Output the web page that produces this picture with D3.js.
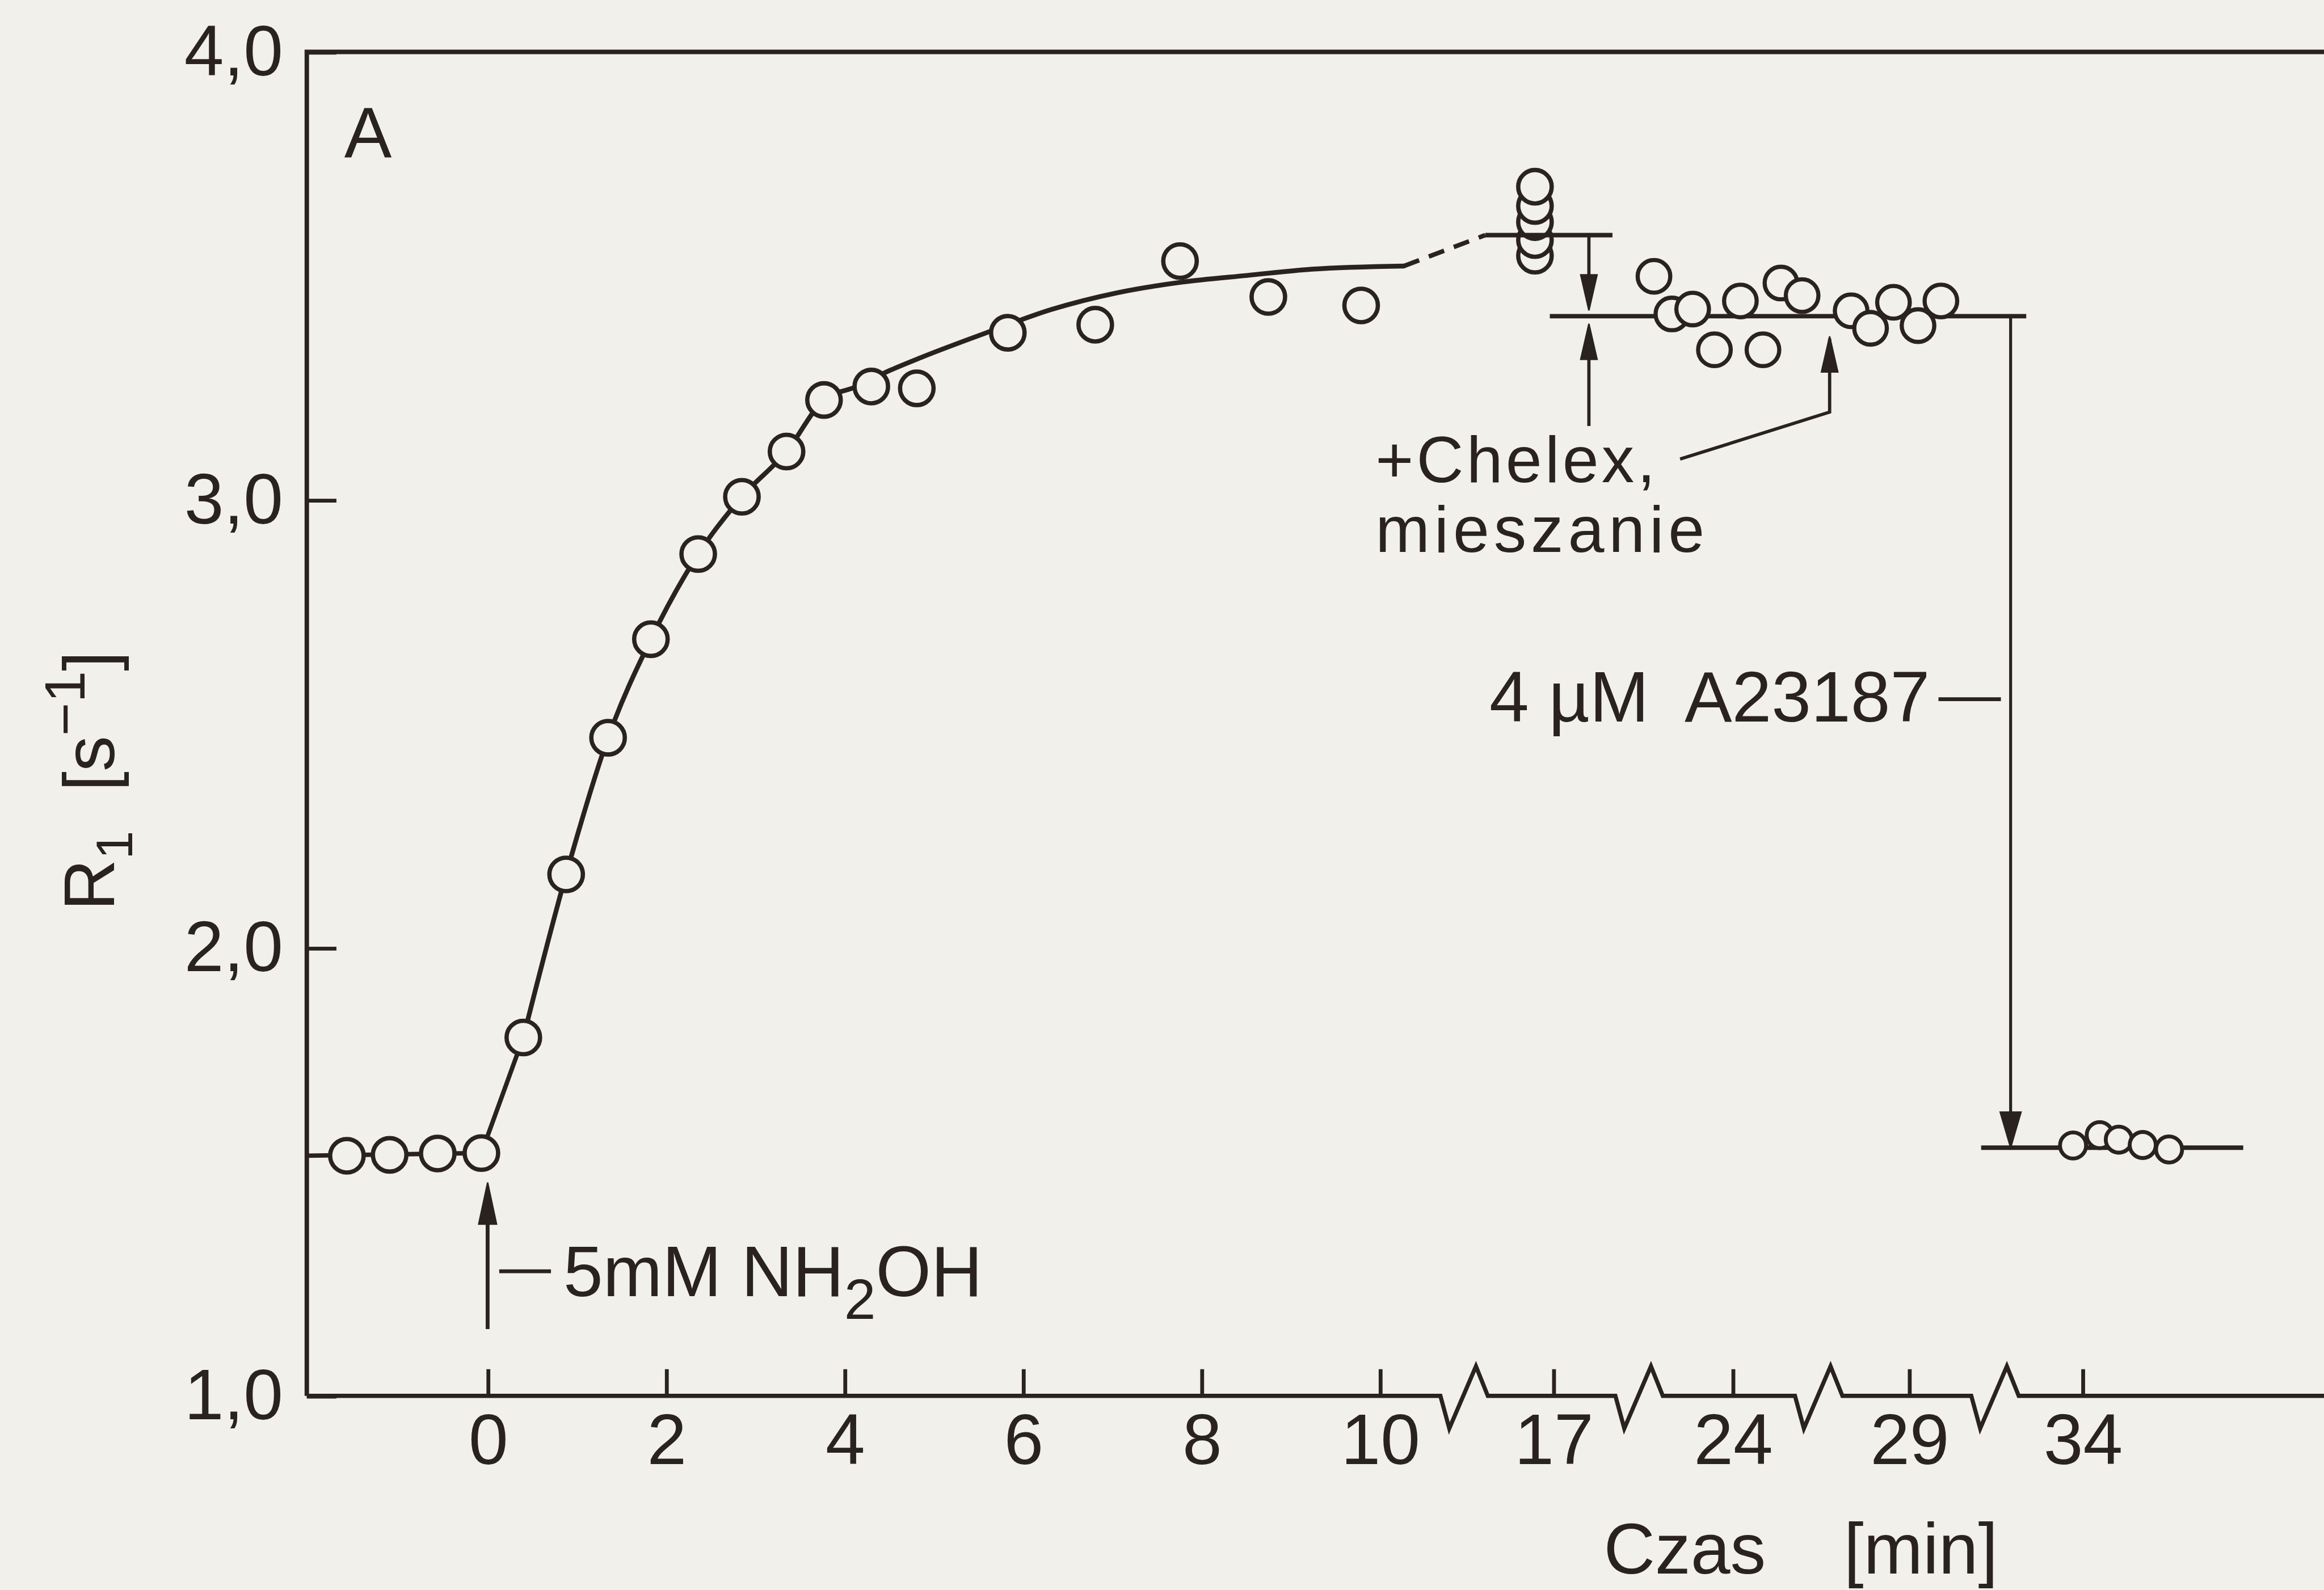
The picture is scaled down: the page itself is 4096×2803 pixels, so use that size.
<!DOCTYPE html>
<html>
<head>
<meta charset="utf-8">
<script src="https://cdn.jsdelivr.net/npm/d3@7"></script>
<style>
  html, body { margin: 0; padding: 0; background: #f1f0ea; }
  svg { display: block; }
</style>
</head>
<body>
<svg id="chart"></svg>
<script>
            // Axis ticks (broken time axis, minutes)
            var tickTimes = [0, 2, 4, 6, 8, 10, 17, 24, 29, 34];
            var tickLabels = ["0", "2", "4", "6", "8", "10", "17", "24", "29", "34"];
            var yTicks = [1, 2, 3, 4];
            var yTickLabels = ["1,0", "2,0", "3,0", "4,0"];
            var breakTimes = [13.4, 20.35, 26.44, 31.48];

            // R1 before NH2OH
            var preTime = [-1.58, -1.10, -0.56, -0.07];
            var preR1 = [1.536, 1.538, 1.541, 1.542];

            // R1 after 5mM NH2OH
            var riseTime = [0.40, 0.88, 1.35, 1.83, 2.36, 2.85, 3.35, 3.77, 4.30, 4.81, 5.83, 6.81, 7.76, 8.75, 9.79];
            var riseR1 = [1.800, 2.164, 2.469, 2.689, 2.879, 3.007, 3.108, 3.223, 3.253, 3.249, 3.373, 3.391, 3.533, 3.453, 3.434];

            // points around 17 min
            var stackTime = [16.26, 16.26, 16.26, 16.26, 16.26];
            var stackR1 = [3.545, 3.580, 3.620, 3.656, 3.699];

            // after Chelex, stirring
            var chelexTime = [20.93, 21.63, 22.44, 23.29, 24.22, 24.86, 25.37, 25.97, 27.36, 27.91, 28.56, 29.26, 29.92];
            var chelexR1 = [3.499, 3.415, 3.426, 3.335, 3.444, 3.335, 3.484, 3.456, 3.422, 3.383, 3.441, 3.389, 3.444];

            // after 4 uM A23187
            var ionoTime = [33.73, 34.50, 35.05, 35.74, 36.50];
            var ionoR1 = [1.559, 1.582, 1.572, 1.560, 1.550];

            // hand drawn fit curve
            var fitTime = [0.40, 0.88, 1.35, 1.83, 2.36, 2.85, 3.35, 3.77, 4.12, 4.52, 4.86, 5.59, 6.32, 7.05, 7.78, 8.51, 9.24, 10.97];
            var fitR1 = [1.800, 2.164, 2.469, 2.689, 2.879, 3.007, 3.108, 3.223, 3.252, 3.290, 3.318, 3.373, 3.425, 3.462, 3.486, 3.501, 3.515, 3.522];

            // levels
            var level17 = 3.591;
            var levelChelex = 3.41;
            var levelIono = 1.554;

            //Colours, sizes
            var paper = "#f1f0ea";
            var ink = "#2a2221";
            var font = "'Liberation Sans', Arial, sans-serif";
            var fs = 48;
            var W = 1568, H = 1073;

            var svg = d3.select("#chart")
                .attr("width", 4096)
                .attr("height", 2803)
                .attr("viewBox", "0 0 " + W + " " + H)
                .style("background", paper);

            var x = d3.scaleLinear()
                .domain([-2.03, 0, 10, 17, 24, 29, 34, 40.97])
                .range([207, 329, 931, 1048, 1169, 1288, 1405, 1568]);
            var y = d3.scaleLinear().domain([1, 4]).range([942, 35]);

            function pts(t, r) { return t.map(function(d, i) { return {t: d, r: r[i]}; }); }

            function arrowHead(g, xt, yt, dir, len, hw) {
                // dir: 1 = pointing down, -1 = pointing up
                g.append("path")
                    .attr("d", "M" + xt + "," + yt + "L" + (xt - hw) + "," + (yt - dir * len) +
                               "L" + (xt + hw) + "," + (yt - dir * len) + "Z")
                    .attr("fill", ink);
            }

            //-----------------------------------------
            // Axes
            var xAxis = d3.axisBottom(x)
                .tickValues(tickTimes)
                .tickFormat(function(d, i) { return tickLabels[i]; })
                .tickSizeInner(-18)
                .tickSizeOuter(0)
                .tickPadding(12);

            var gx = svg.append("g")
                .attr("transform", "translate(0," + y(1) + ")")
                .call(xAxis)
                .attr("font-family", font)
                .attr("font-size", fs);
            gx.select(".domain").remove();
            gx.selectAll("line").attr("stroke", ink).attr("stroke-width", 2.6);
            gx.selectAll("text").attr("fill", ink);

            var yAxis = d3.axisLeft(y)
                .tickValues(yTicks)
                .tickFormat(function(d, i) { return yTickLabels[i]; })
                .tickSizeInner(-20)
                .tickSizeOuter(0)
                .tickPadding(16);

            var gy = svg.append("g")
                .attr("transform", "translate(" + x(-2.03) + ",0)")
                .call(yAxis)
                .attr("font-family", font)
                .attr("font-size", fs);
            gy.select(".domain").remove();
            gy.selectAll("line").attr("stroke", ink).attr("stroke-width", 2.6);
            gy.selectAll("text").attr("fill", ink);

            // frame: top, left, broken bottom
            var x0 = x(-2.03), yb = y(1);
            svg.append("path")
                .attr("d", "M" + x0 + "," + yb + "L" + x0 + "," + y(4) + "L" + W + "," + y(4))
                .attr("fill", "none").attr("stroke", ink).attr("stroke-width", 3)
                .attr("stroke-linejoin", "miter");

            var bp = "M" + x0 + "," + yb;
            breakTimes.forEach(function(b) {
                var cx = x(b);
                bp += "L" + (cx - 16) + "," + yb + "L" + (cx - 10) + "," + (yb + 22) +
                      "L" + (cx + 8) + "," + (yb - 20) + "L" + (cx + 16) + "," + yb;
            });
            bp += "L" + W + "," + yb;
            svg.append("path").attr("d", bp)
                .attr("fill", "none").attr("stroke", ink).attr("stroke-width", 2.8)
                .attr("stroke-linejoin", "miter");

            //-----------------------------------------
            // Lines
            var line = d3.line().x(function(d) { return x(d.t); }).y(function(d) { return y(d.r); });

            // baseline before NH2OH and first straight rise
            svg.append("path")
                .attr("d", line([{t: -2.03, r: preR1[0]}, {t: preTime[3], r: preR1[3]}, {t: fitTime[0], r: fitR1[0]}]))
                .attr("fill", "none").attr("stroke", ink).attr("stroke-width", 3);

            svg.append("path")
                .attr("d", line.curve(d3.curveMonotoneX)(pts(fitTime, fitR1)))
                .attr("fill", "none").attr("stroke", ink).attr("stroke-width", 3.2)
                .attr("stroke-linecap", "round");
            line.curve(d3.curveLinear);

            // dashed extrapolation to 17 min
            svg.append("path")
                .attr("d", line([{t: fitTime[fitTime.length - 1], r: fitR1[fitR1.length - 1]}, {t: 14.25, r: level17}]))
                .attr("fill", "none").attr("stroke", ink).attr("stroke-width", 3)
                .attr("stroke-dasharray", "11,7");

            // Chelex level and A23187 level (under the points)
            svg.append("path").attr("d", line([{t: 16.86, r: levelChelex}, {t: 32.38, r: levelChelex}]))
                .attr("stroke", ink).attr("stroke-width", 3);
            svg.append("path").attr("d", line([{t: 31.08, r: levelIono}, {t: 38.64, r: levelIono}]))
                .attr("stroke", ink).attr("stroke-width", 3);

            //-----------------------------------------
            // Points
            function drawPoints(data, r, sw) {
                svg.append("g").selectAll("circle")
                    .data(data)
                    .enter()
                    .append("circle")
                    .attr("cx", function(d) { return x(d.t); })
                    .attr("cy", function(d) { return y(d.r); })
                    .attr("r", r)
                    .attr("fill", paper)
                    .attr("stroke", ink)
                    .attr("stroke-width", sw);
            }
            drawPoints(pts(preTime, preR1), 11.3, 2.9);
            drawPoints(pts(riseTime, riseR1), 11.3, 2.9);
            drawPoints(pts(stackTime, stackR1), 11.3, 2.9);
            drawPoints(pts(chelexTime, chelexR1), 11, 2.8);
            drawPoints(pts(ionoTime, ionoR1), 8.8, 2.6);

            // level line at 17 min drawn across the stack
            svg.append("path").attr("d", line([{t: 14.25, r: level17}, {t: 19.31, r: level17}]))
                .attr("stroke", ink).attr("stroke-width", 3);

            //-----------------------------------------
            // Annotations
            var ann = svg.append("g").attr("stroke", ink).attr("fill", "none");

            // NH2OH arrow
            ann.append("line")
                .attr("x1", x(0)).attr("x2", x(0))
                .attr("y1", y(1.149)).attr("y2", y(1.476) + 20)
                .attr("stroke-width", 2.6);
            arrowHead(ann, x(0), y(1.476), -1, 28, 6);
            ann.append("line")
                .attr("x1", x(0.13)).attr("x2", x(0.71))
                .attr("y1", y(1.278)).attr("y2", y(1.278))
                .attr("stroke-width", 2.6);

            // Chelex double arrow
            ann.append("line")
                .attr("x1", x(18.39)).attr("x2", x(18.39))
                .attr("y1", y(level17)).attr("y2", y(3.423) - 18)
                .attr("stroke-width", 2.2);
            arrowHead(ann, x(18.39), y(3.423), 1, 24, 5.5);
            ann.append("line")
                .attr("x1", x(18.39)).attr("x2", x(18.39))
                .attr("y1", y(3.165)).attr("y2", y(3.393) + 18)
                .attr("stroke-width", 2.2);
            arrowHead(ann, x(18.39), y(3.393), -1, 24, 5.5);

            // mieszanie leader
            ann.append("path")
                .attr("d", line([{t: 21.95, r: 3.091}, {t: 26.75, r: 3.196}, {t: 26.75, r: 3.36}]))
                .attr("stroke-width", 2.2);
            arrowHead(ann, x(26.75), y(3.365), -1, 24, 5.5);

            // A23187 arrow
            ann.append("line")
                .attr("x1", x(31.93)).attr("x2", x(31.93))
                .attr("y1", y(levelChelex)).attr("y2", y(levelIono) - 18)
                .attr("stroke-width", 2);
            arrowHead(ann, x(31.93), y(levelIono), 1, 24, 7);
            ann.append("line")
                .attr("x1", x(29.85)).attr("x2", x(31.65))
                .attr("y1", y(2.555)).attr("y2", y(2.555))
                .attr("stroke-width", 2.6);

            //-----------------------------------------
            // Texts
            var txt = svg.append("g")
                .attr("font-family", font)
                .attr("font-size", fs)
                .attr("fill", ink);

            txt.append("text").attr("x", x(-1.61)).attr("y", y(3.765)).text("A");

            var nh = txt.append("text").attr("x", x(0.85)).attr("y", y(1.222));
            nh.append("tspan").text("5mM  NH");
            nh.append("tspan").attr("dy", 15).attr("font-size", fs * 0.8).text("2");
            nh.append("tspan").attr("dy", -15).text("OH");

            txt.append("text").attr("x", x(9.95)).attr("y", y(3.04))
                .attr("font-size", 44).attr("letter-spacing", 2).text("+Chelex,");
            txt.append("text").attr("x", x(9.95)).attr("y", y(2.884))
                .attr("font-size", 44).attr("letter-spacing", 3).text("mieszanie");

            txt.append("text").attr("x", x(29.6)).attr("y", y(2.505))
                .attr("text-anchor", "end")
                .style("white-space", "pre")
                .text("4 µM  A23187");

            // axis titles
            var yt = txt.append("text")
                .attr("transform", "translate(77,527) rotate(-90)")
                .attr("text-anchor", "middle");
            yt.append("tspan").text("R");
            yt.append("tspan").attr("dy", 12).attr("font-size", fs * 0.72).text("1");
            yt.append("tspan").attr("dy", -12).style("white-space", "pre").text("  [s");
            yt.append("tspan").attr("dy", -20).attr("font-size", fs * 0.8).text("−1");
            yt.append("tspan").attr("dy", 20).text("]");

            txt.append("text").attr("x", 1082).attr("y", 1062).text("Czas");
            txt.append("text").attr("x", 1244).attr("y", 1062).text("[min]");
</script>
</body>
</html>
